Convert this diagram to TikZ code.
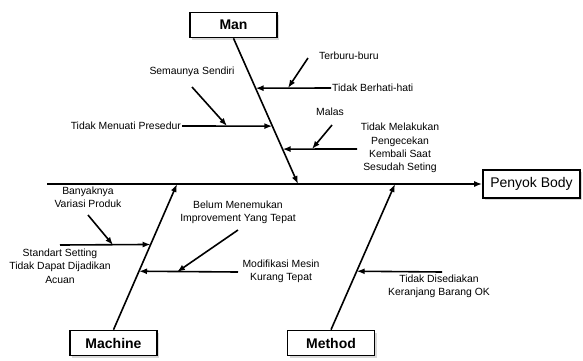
\documentclass[tikz,border=0pt]{standalone}
\usepackage{fontspec}
\setmainfont{Liberation Sans}
\usetikzlibrary{arrows.meta,shadows,calc}
\begin{document}
\begin{tikzpicture}[x=1pt,y=-1pt,
  ln/.style={line width=1.6pt},
  arr/.style={ln,-{Latex[length=8pt,width=6pt]}},
  catbox/.style={draw,line width=1.6pt,fill=white,minimum width=87pt,minimum height=25pt,inner sep=0pt,
     font=\fontsize{14}{16}\selectfont\bfseries,
     drop shadow={shadow xshift=2pt,shadow yshift=-2pt,fill=black!25,opacity=0.6}},
  lab/.style={inner sep=1pt,align=center,font=\fontsize{10.4}{13.3}\selectfont}]
\useasboundingbox (0,0) rectangle (583,360);
% boxes
\node[catbox] (man) at (233.5,25) {Man};
\node[catbox] (machine) at (113.5,343) {Machine};
\node[catbox] (method) at (331,343) {Method};
\node[catbox,minimum width=97pt,minimum height=28pt,font=\fontsize{14}{16}\selectfont] (pb) at (531.5,184) {Penyok Body};
% spine
\coordinate (tail) at (47,184);
\coordinate (manend) at (298,184);
\coordinate (macend) at (177,184);
\coordinate (metend) at (395,184);
\draw[arr] (tail) -- (pb.west);
\draw[arr] (man.south) -- (manend);
\draw[arr] (machine.north) -- (macend);
\draw[arr] (method.north) -- (metend);
% Man branches
\coordinate (m1) at ($(man.south)!0.3425!(manend)$);
\coordinate (m2) at ($(man.south)!0.6027!(manend)$);
\coordinate (m3) at ($(man.south)!0.7603!(manend)$);
\node[lab,anchor=west] (berhati) at (331,88) {Tidak Berhati-hati};
\draw[arr] (berhati.west) -- (m1);
\node[lab,anchor=west] (terburu) at (318,56) {Terburu-buru};
\coordinate (t1) at (308,58);
\coordinate (t2) at (288,88);
\draw[arr] (t1) -- (t2);
\node[lab,anchor=east] (menuati) at (182,126) {Tidak Menuati Presedur};
\draw[arr] (menuati.east) -- (m2);
\node[lab] (semaunya) at (192,72) {Semaunya Sendiri};
\coordinate (s1) at (192,87);
\coordinate (s2) at (227,126);
\draw[arr] (s1) -- (s2);
\node[lab] (melakukan) at (400,148) {Tidak Melakukan\\Pengecekan\\Kembali Saat\\Sesudah Seting};
\coordinate (k0) at (357,149);
\draw[arr] (k0) -- (m3);
\node[lab] (malas) at (330,112) {Malas};
\coordinate (ma1) at (332,125);
\coordinate (ma2) at (312,149);
\draw[arr] (ma1) -- (ma2);
% Machine branches
\coordinate (c1) at ($(machine.north)!0.585!(macend)$);
\coordinate (c2) at ($(machine.north)!0.4014!(macend)$);
\coordinate (h1) at (60,245);
\draw[arr] (h1) -- (c1);
\node[lab] (banyak) at (88,197.5) {Banyaknya\\Variasi Produk};
\coordinate (b1) at (88,215);
\coordinate (b2) at (113,245);
\draw[arr] (b1) -- (b2);
\node[lab] (standart) at (60,266) {Standart Setting\\Tidak Dapat Dijadikan\\Acuan};
\coordinate (h2) at (238,272);
\draw[arr] (h2) -- (c2);
\node[lab] (belum) at (238,212) {Belum Menemukan\\Improvement Yang Tepat};
\coordinate (u1) at (238,230);
\coordinate (u2) at (177,272);
\draw[arr] (u1) -- (u2);
\node[lab] (modif) at (281,271.5) {Modifikasi Mesin\\Kurang Tepat};
% Method branch
\coordinate (d1) at ($(method.north)!0.4014!(metend)$);
\coordinate (h3) at (442,272);
\draw[arr] (h3) -- (d1);
\node[lab] (disediakan) at (439,286) {Tidak Disediakan\\Keranjang Barang OK};
\end{tikzpicture}
\end{document}
